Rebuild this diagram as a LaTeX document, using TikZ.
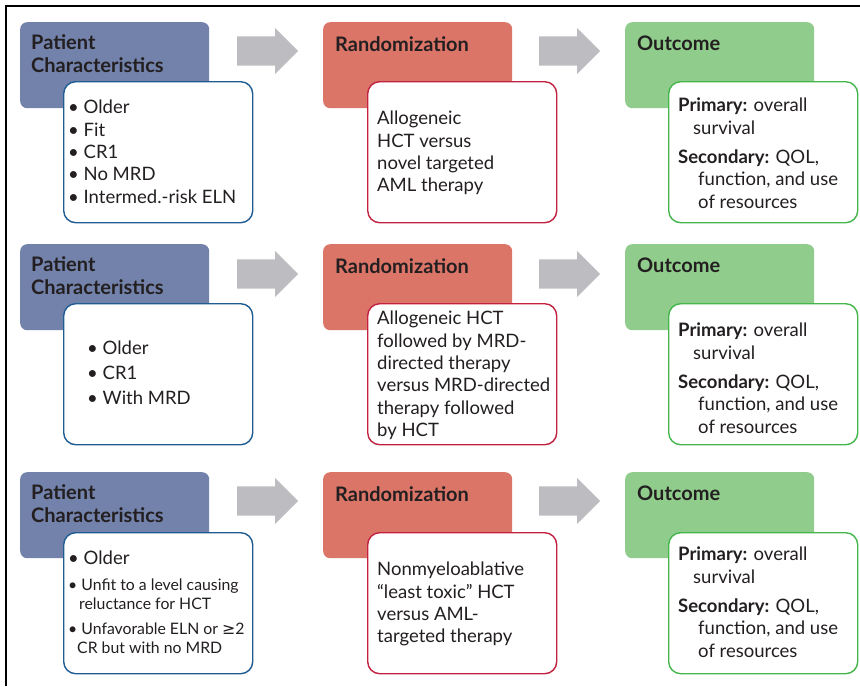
\documentclass[tikz,border=0pt]{standalone}
\usepackage{fontspec}
\setmainfont{Lato}
\newfontfamily\symfont{DejaVu Sans}
\usetikzlibrary{shapes.arrows,positioning,calc}
\definecolor{hdrblue}{HTML}{7282AA}
\definecolor{hdrred}{HTML}{DB7568}
\definecolor{hdrgreen}{HTML}{90CD8C}
\definecolor{bdrblue}{HTML}{1F5C92}
\definecolor{bdrred}{HTML}{C2223F}
\definecolor{bdrgreen}{HTML}{45B64C}
\definecolor{arrgray}{HTML}{BDBDC1}
\definecolor{ink}{HTML}{231F20}

\begin{document}
\begin{tikzpicture}[x=1pt,y=-1pt]
\tikzset{hdr/.style={anchor=north west, minimum width=189pt, minimum height=86pt, rounded corners=7pt, inner sep=0pt}}
\tikzset{infobox/.style={anchor=north west, fill=white, line width=1.4pt, minimum width=189pt, minimum height=141pt, rounded corners=12pt, inner sep=0pt}}
\tikzset{title/.style={anchor=north west, inner sep=0pt, align=left, text=ink, font=\fontsize{20}{23}\selectfont\bfseries}}
\tikzset{body/.style={anchor=north west, inner sep=0pt, align=left, text=ink, font=\fontsize{18.5}{22.3}\selectfont}}
\tikzset{blockarrow/.style={single arrow, anchor=tail, fill=arrgray, minimum height=61pt, inner xsep=0pt, inner ysep=14.5pt, single arrow head extend=8.5pt, single arrow head indent=0pt}}
\useasboundingbox (0,0) rectangle (860,686);
\draw[line width=2.3pt] (6.2,686) -- (6.2,6.2) -- (860,6.2);

% first row
\node[hdr, fill=hdrblue] (pat1) at (20,22) {};
\node[hdr, fill=hdrred] (rand1) at (323,22) {};
\node[hdr, fill=hdrgreen] (out1) at (625,22) {};
\node[blockarrow] (arrA1) at (237,51) {};
\node[blockarrow] (arrB1) at (539,51) {};
\node[title] (pattitle1) at ($(pat1.north west)+(11,12)$) {Patient\\Characteristics};
\node[title] (randtitle1) at ($(rand1.north west)+(12,14)$) {Randomization};
\node[title] (outtitle1) at ($(out1.north west)+(12,14)$) {Outcome};
\node[infobox, draw=bdrblue] (patbox1) at (63,81) {};
\node[infobox, draw=bdrred] (randbox1) at (367,81) {};
\node[infobox, draw=bdrgreen] (outbox1) at (668,81) {};
\node[body] (pattxt1) at ($(patbox1.north west)+(5,19)$)
  {\textbullet\ Older\\\textbullet\ Fit\\\textbullet\ CR1\\\textbullet\ No MRD\\\textbullet\ Intermed.-risk ELN};
\node[body] (randtxt1) at ($(randbox1.north west)+(10,30)$)
  {Allogeneic\\HCT versus\\novel targeted\\AML therapy};
\node[body] (outtxt1) at ($(outbox1.north west)+(10,17)$)
  {\textbf{Primary:} overall\\\hspace*{15pt}survival\\[7pt]\textbf{Secondary:} QOL,\\\hspace*{20pt}function, and use\\\hspace*{20pt}of resources};

% second row
\node[hdr, fill=hdrblue] (pat2) at (20,244) {};
\node[hdr, fill=hdrred] (rand2) at (323,244) {};
\node[hdr, fill=hdrgreen] (out2) at (625,244) {};
\node[blockarrow] (arrA2) at (237,274) {};
\node[blockarrow] (arrB2) at (539,274) {};
\node[title] (pattitle2) at ($(pat2.north west)+(11,12)$) {Patient\\Characteristics};
\node[title] (randtitle2) at ($(rand2.north west)+(12,14)$) {Randomization};
\node[title] (outtitle2) at ($(out2.north west)+(12,14)$) {Outcome};
\node[infobox, draw=bdrblue] (patbox2) at (63,303) {};
\node[infobox, draw=bdrred] (randbox2) at (367,303) {};
\node[infobox, draw=bdrgreen] (outbox2) at (668,303) {};
\node[body, font=\fontsize{18.5}{25}\selectfont] (pattxt2) at ($(patbox2.north west)+(24,38)$)
  {\textbullet\ Older\\\textbullet\ CR1\\\textbullet\ With MRD};
\node[body] (randtxt2) at ($(randbox2.north west)+(10,8)$)
  {Allogeneic HCT\\followed by MRD-\\directed therapy\\versus MRD-directed\\therapy followed\\by HCT};
\node[body] (outtxt2) at ($(outbox2.north west)+(10,20)$)
  {\textbf{Primary:} overall\\\hspace*{15pt}survival\\[7pt]\textbf{Secondary:} QOL,\\\hspace*{20pt}function, and use\\\hspace*{20pt}of resources};

% third row
\node[hdr, fill=hdrblue] (pat3) at (20,472) {};
\node[hdr, fill=hdrred] (rand3) at (323,472) {};
\node[hdr, fill=hdrgreen] (out3) at (625,472) {};
\node[blockarrow] (arrA3) at (237,501) {};
\node[blockarrow] (arrB3) at (539,501) {};
\node[title] (pattitle3) at ($(pat3.north west)+(11,12)$) {Patient\\Characteristics};
\node[title] (randtitle3) at ($(rand3.north west)+(12,14)$) {Randomization};
\node[title] (outtitle3) at ($(out3.north west)+(12,14)$) {Outcome};
\node[infobox, draw=bdrblue] (patbox3) at (63,532) {};
\node[infobox, draw=bdrred] (randbox3) at (367,532) {};
\node[infobox, draw=bdrgreen] (outbox3) at (668,532) {};
\node[body, font=\fontsize{15.8}{19.5}\selectfont] (pattxt3) at ($(patbox3.north west)+(5,19)$)
  {{\fontsize{18.5}{22}\selectfont\textbullet\ Older}\\[6pt]
   \textbullet\ Unfit to a level causing\\\hspace*{11pt}reluctance for HCT\\[5pt]
   \textbullet\ Unfavorable ELN or {\symfont ≥}2\\\hspace*{9pt}CR but with no MRD};
\node[body] (randtxt3) at ($(randbox3.north west)+(10,30)$)
  {Nonmyeloablative\\``least toxic'' HCT\\versus AML-\\targeted therapy};
\node[body] (outtxt3) at ($(outbox3.north west)+(10,15)$)
  {\textbf{Primary:} overall\\\hspace*{15pt}survival\\[7pt]\textbf{Secondary:} QOL,\\\hspace*{20pt}function, and use\\\hspace*{20pt}of resources};
\end{tikzpicture}
\end{document}
